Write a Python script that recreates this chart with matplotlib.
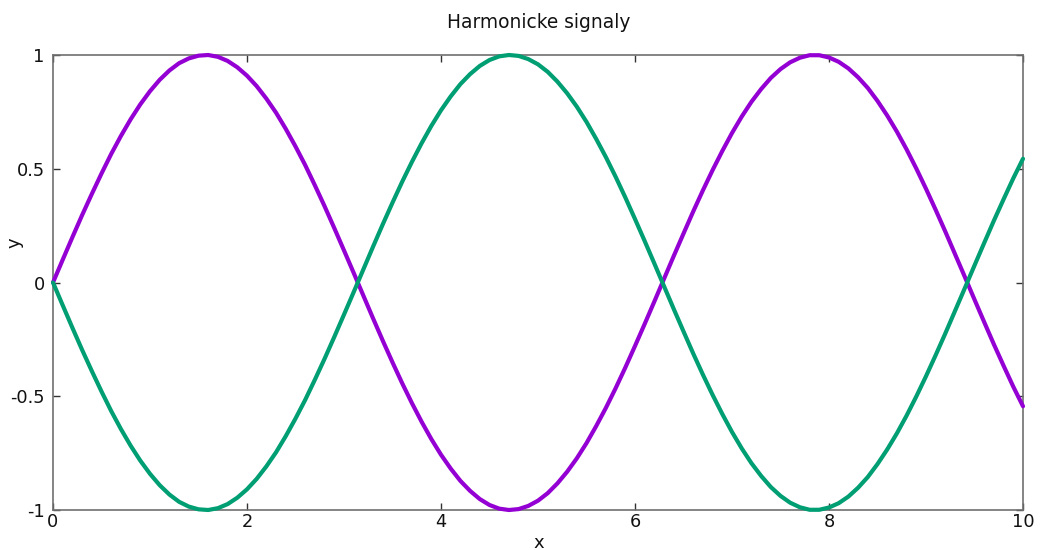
import matplotlib
matplotlib.use("Agg")
import matplotlib.pyplot as plt

# Sample positions (step 0.1) and the two harmonic signals
x_vals = [round(0.1 * i, 1) for i in range(101)]

signal_a = [0.000, 0.100, 0.199, 0.296, 0.389, 0.479, 0.565, 0.644, 0.717, 0.783,
            0.841, 0.891, 0.932, 0.964, 0.985, 0.997, 1.000, 0.992, 0.974, 0.946,
            0.909, 0.863, 0.808, 0.746, 0.675, 0.598, 0.516, 0.427, 0.335, 0.239,
            0.141, 0.042, -0.058, -0.158, -0.256, -0.351, -0.443, -0.530, -0.612, -0.688,
            -0.757, -0.818, -0.872, -0.916, -0.952, -0.978, -0.994, -1.000, -0.996, -0.982,
            -0.959, -0.926, -0.883, -0.832, -0.773, -0.706, -0.631, -0.551, -0.465, -0.374,
            -0.279, -0.182, -0.083, 0.017, 0.117, 0.215, 0.312, 0.405, 0.494, 0.578,
            0.657, 0.729, 0.794, 0.850, 0.899, 0.938, 0.968, 0.988, 0.999, 0.999,
            0.989, 0.970, 0.941, 0.902, 0.855, 0.798, 0.734, 0.663, 0.585, 0.501,
            0.412, 0.319, 0.223, 0.124, 0.025, -0.075, -0.174, -0.272, -0.366, -0.458,
            -0.544]

signal_b = [0.000, -0.100, -0.199, -0.296, -0.389, -0.479, -0.565, -0.644, -0.717, -0.783,
            -0.841, -0.891, -0.932, -0.964, -0.985, -0.997, -1.000, -0.992, -0.974, -0.946,
            -0.909, -0.863, -0.808, -0.746, -0.675, -0.598, -0.516, -0.427, -0.335, -0.239,
            -0.141, -0.042, 0.058, 0.158, 0.256, 0.351, 0.443, 0.530, 0.612, 0.688,
            0.757, 0.818, 0.872, 0.916, 0.952, 0.978, 0.994, 1.000, 0.996, 0.982,
            0.959, 0.926, 0.883, 0.832, 0.773, 0.706, 0.631, 0.551, 0.465, 0.374,
            0.279, 0.182, 0.083, -0.017, -0.117, -0.215, -0.312, -0.405, -0.494, -0.578,
            -0.657, -0.729, -0.794, -0.850, -0.899, -0.938, -0.968, -0.988, -0.999, -0.999,
            -0.989, -0.970, -0.941, -0.902, -0.855, -0.798, -0.734, -0.663, -0.585, -0.501,
            -0.412, -0.319, -0.223, -0.124, -0.025, 0.075, 0.174, 0.272, 0.366, 0.458,
            0.544]

x_ticks = [0, 2, 4, 6, 8, 10]
x_tick_labels = ["0", "2", "4", "6", "8", "10"]
y_ticks = [-1, -0.5, 0, 0.5, 1]
y_tick_labels = ["-1", "-0.5", "0", "0.5", "1"]

plt.rcParams['font.family'] = ['DejaVu Sans']

fig = plt.figure(figsize=(10.41, 5.5), dpi=100)
ax = fig.add_axes([53 / 1041, 1 - 510 / 550, (1023 - 53) / 1041, (510 - 55) / 550])

ax.plot(x_vals, signal_a, color="#9400D3", lw=3.0, solid_capstyle="round",
        solid_joinstyle="round", clip_on=False, zorder=3)
ax.plot(x_vals, signal_b, color="#009E73", lw=3.0, solid_capstyle="round",
        solid_joinstyle="round", clip_on=False, zorder=3)

ax.set_xlim(0, 10)
ax.set_ylim(-1, 1)
ax.set_xticks(x_ticks)
ax.set_xticklabels(x_tick_labels)
ax.set_yticks(y_ticks)
ax.set_yticklabels(y_tick_labels)

ax.tick_params(direction="in", length=5, width=1, color="#333333",
               top=True, right=True, labelsize=12.8, labelcolor="#111111")
ax.tick_params(axis="x", pad=2)
ax.tick_params(axis="y", pad=6)

for side in ax.spines.values():
    side.set_color("#707070")
    side.set_linewidth(1.2)

fig.text(539 / 1041, 1 - 22 / 550, "Harmonicke signaly", ha="center", va="center",
         fontsize=13.4, color="#111111")
fig.text(539 / 1041, 1 - 543 / 550, "x", ha="center", va="center",
         fontsize=13, color="#111111")
fig.text(15 / 1041, 1 - 243 / 550, "y", ha="center", va="center", rotation=90,
         fontsize=13, color="#111111")

fig.savefig("out.png", dpi=100)
